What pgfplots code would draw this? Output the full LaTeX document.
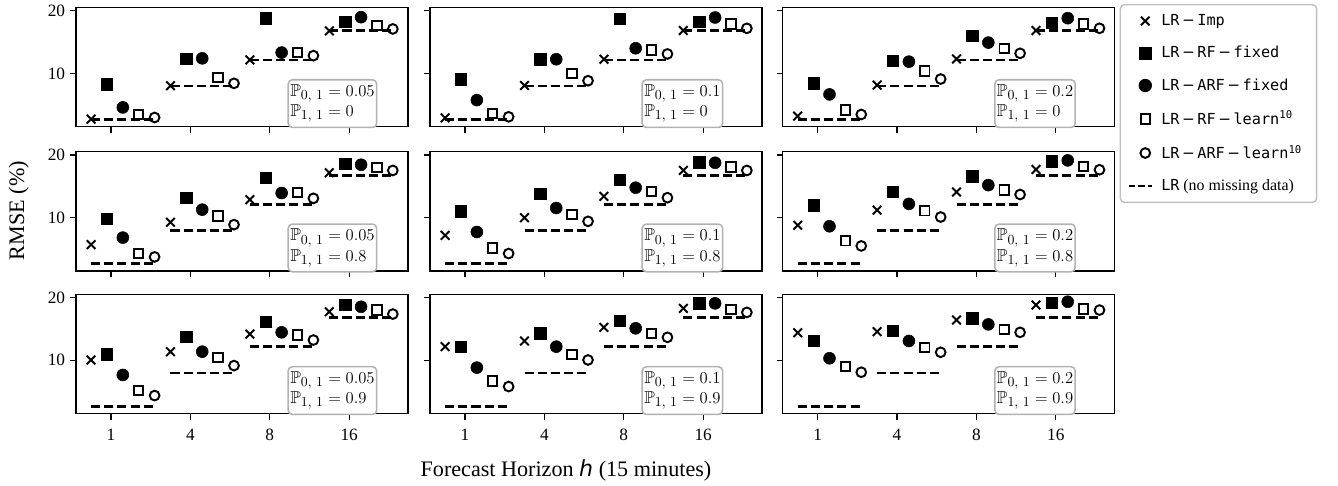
\documentclass[border=0pt]{standalone}
\usepackage[no-math]{fontspec}
\setmainfont{Liberation Serif}
\newfontfamily\dvmono{DejaVu Sans Mono}
\newfontfamily\dvsans{DejaVu Sans}
\usepackage{amssymb}
\usepackage{pgfplots}
\usepackage{pgfplotstable}
\pgfplotsset{compat=1.18}

\newcommand{\mi}{\,{\dvsans\char"2212}\,}
\newcommand{\sub}[1]{\mbox{\fontsize{10}{10}\selectfont$#1$}}

% baseline: LR (no missing data), same for all panels
\pgfplotstableread{
x y
-0.25 2.63
0.55 2.63
nan nan
0.75 7.98
1.55 7.98
nan nan
1.75 12.15
2.55 12.15
nan nan
2.75 16.8
3.55 16.8
}\tBase

% columns: group (h=1,4,8,16), LR-Imp, LR-RF-fixed, LR-ARF-fixed, LR-RF-learn, LR-ARF-learn
\pgfplotstableread{
g imp rff arff rfl arfl
0 2.67 8.24 4.55 3.42 2.94
1 8.02 12.35 12.40 9.36 8.40
2 12.14 18.82 13.32 13.37 12.83
3 16.79 18.29 18.98 17.65 17.10
}\tA
\pgfplotstableread{
g imp rff arff rfl arfl
0 2.89 9.04 5.72 3.58 3.05
1 8.07 12.25 12.25 10.00 8.82
2 12.25 18.72 14.01 13.74 13.10
3 16.85 18.29 18.93 17.86 17.20
}\tB
\pgfplotstableread{
g imp rff arff rfl arfl
0 3.16 8.40 6.63 4.12 3.42
1 8.13 11.98 11.87 10.37 9.09
2 12.30 16.04 14.92 14.01 13.20
3 16.85 18.13 18.82 17.91 17.20
}\tC
\pgfplotstableread{
g imp rff arff rfl arfl
0 5.69 9.79 6.81 4.26 3.72
1 9.26 13.14 11.28 10.27 8.88
2 12.87 16.33 13.94 13.99 13.09
3 17.18 18.62 18.46 17.98 17.55
}\tD
\pgfplotstableread{
g imp rff arff rfl arfl
0 7.18 11.01 7.71 5.16 4.26
1 10.00 13.83 11.54 10.53 9.41
2 13.40 16.06 14.79 14.20 13.19
3 17.55 18.83 18.78 18.09 17.55
}\tE
\pgfplotstableread{
g imp rff arff rfl arfl
0 8.78 11.97 8.62 6.30 5.48
1 11.20 14.10 12.20 11.10 10.10
2 14.10 16.60 15.20 14.40 13.70
3 17.71 18.99 19.15 18.19 17.66
}\tF
\pgfplotstableread{
g imp rff arff rfl arfl
0 10.05 10.96 7.66 5.16 4.36
1 11.38 13.78 11.38 10.43 9.15
2 14.20 16.17 14.47 14.04 13.24
3 17.77 18.83 18.56 18.03 17.39
}\tG
\pgfplotstableread{
g imp rff arff rfl arfl
0 12.18 12.18 8.83 6.70 5.80
1 13.09 14.31 12.18 10.96 10.05
2 15.27 16.33 15.11 14.31 13.67
3 18.30 19.10 19.10 18.14 17.66
}\tH
\pgfplotstableread{
g imp rff arff rfl arfl
0 14.41 13.14 10.32 8.99 8.09
1 14.57 14.73 13.09 12.02 11.28
2 16.44 16.70 15.74 14.95 14.47
3 18.83 19.20 19.36 18.19 18.03
}\tI

\pgfplotsset{
  common/.style={
    scale only axis, width=239bp, height=86bp, anchor=north west,
    xmin=-0.44, xmax=3.74, ymin=1.45, ymax=20.55,
    xtick={0,1,2,3}, xticklabels={1,4,8,16},
    ytick={10,20},
    tick pos=left, tick align=outside,
    major tick length=4.3bp,
    every tick/.style={black, line width=0.9bp},
    axis line style={line width=0.9bp},
    tick label style={font=\fontsize{12.5}{14}\selectfont},
    xticklabel style={yshift=-3bp},
    /pgf/number format/assume math mode=true,
    unbounded coords=jump,
    clip=false,
  },
  baseline/.style={black, line width=2bp, dash pattern=on 6.5bp off 3bp, no markers},
  mImp/.style={only marks, mark=x, mark size=4.4bp, mark options={line width=1.4bp, black},
    legend image post style={xshift=3.5bp}},
  mRFF/.style={only marks, mark=square*, mark size=4.1bp, mark options={black, fill=black},
    legend image post style={xshift=3.5bp}},
  mARFF/.style={only marks, mark=*, mark size=4.3bp, mark options={black, fill=black},
    legend image post style={xshift=3.5bp}},
  mRFL/.style={only marks, mark=square, mark size=3.4bp, mark options={line width=1.4bp, black},
    legend image post style={xshift=3.5bp}},
  mARFL/.style={only marks, mark=o, mark size=3.5bp, mark options={line width=1.4bp, black},
    legend image post style={xshift=3.5bp}},
}
\tikzset{pbox/.style={draw=black!30, line width=1.1bp, rounded corners=3bp, fill=white,
  anchor=south west, align=left, inner xsep=1.5bp, inner ysep=3.5bp, font=\fontsize{12.5}{14.6}\selectfont}}

\newcommand{\panel}[7]{%
\begin{axis}[common, at={(#1,#2)}, #6]
\addplot[baseline, forget plot] table[x=x,y=y]{\tBase};
\addplot[mImp] table[x expr=\thisrow{g}-0.25,y=imp]{#3};
\addplot[mRFF] table[x expr=\thisrow{g}-0.05,y=rff]{#3};
\addplot[mARFF] table[x expr=\thisrow{g}+0.15,y=arff]{#3};
\addplot[mRFL] table[x expr=\thisrow{g}+0.35,y=rfl]{#3};
\addplot[mARFL] table[x expr=\thisrow{g}+0.55,y=arfl]{#3};
\node[pbox] at (rel axis cs:0.637,-0.012) {$\mathbb{P}_{\sub{0,\,1}} = #4$\\$\mathbb{P}_{\sub{1,\,1}} = #5$};
#7
\end{axis}}

\begin{document}
\begin{tikzpicture}
\path[use as bounding box] (0,0) rectangle (963.36bp,-349.2bp);
\panel{54.7bp}{-5.3bp}{\tA}{0.05}{0}{xticklabels={}}{}
\panel{309.6bp}{-5.3bp}{\tB}{0.1}{0}{xticklabels={}, yticklabels={}}{}
\panel{563.5bp}{-5.3bp}{\tC}{0.2}{0}{xticklabels={}, yticklabels={},
  legend style={at={(1.015,1.028)}, anchor=north west, draw=black!25, line width=1bp,
    rounded corners=3bp, font=\fontsize{11}{13}\selectfont, row sep=9.5bp,
    inner xsep=5bp, inner ysep=5bp, nodes={inner xsep=5.5bp}},
  legend cell align=left}{%
  \addlegendimage{line legend, black, line width=2bp, dash pattern=on 4.5bp off 2.5bp}
  \legend{{\dvmono LR}\mi{\dvmono Imp},
          {\dvmono LR}\mi{\dvmono RF}\mi{\dvmono fixed},
          {\dvmono LR}\mi{\dvmono ARF}\mi{\dvmono fixed},
          {\dvmono LR}\mi{\dvmono RF}\mi{\dvmono learn\textsuperscript{10}},
          {\dvmono LR}\mi{\dvmono ARF}\mi{\dvmono learn\textsuperscript{10}},
          {\dvmono LR} {\fontsize{11.5}{13}\selectfont(no missing data)}}}
\panel{54.7bp}{-109.2bp}{\tD}{0.05}{0.8}{xticklabels={}}{}
\panel{309.6bp}{-109.2bp}{\tE}{0.1}{0.8}{xticklabels={}, yticklabels={}}{}
\panel{563.5bp}{-109.2bp}{\tF}{0.2}{0.8}{xticklabels={}, yticklabels={}}{}
\panel{54.7bp}{-211.9bp}{\tG}{0.05}{0.9}{}{}
\panel{309.6bp}{-211.9bp}{\tH}{0.1}{0.9}{yticklabels={}}{}
\panel{563.5bp}{-211.9bp}{\tI}{0.2}{0.9}{yticklabels={}}{}
\node[rotate=90, font=\fontsize{16}{18}\selectfont] at (13.5bp,-151.6bp) {RMSE (\%)};
\node[anchor=base, font=\fontsize{16}{18}\selectfont] at (407.5bp,-343.4bp) {Forecast Horizon {\dvsans\itshape h} (15 minutes)};
\end{tikzpicture}
\end{document}
